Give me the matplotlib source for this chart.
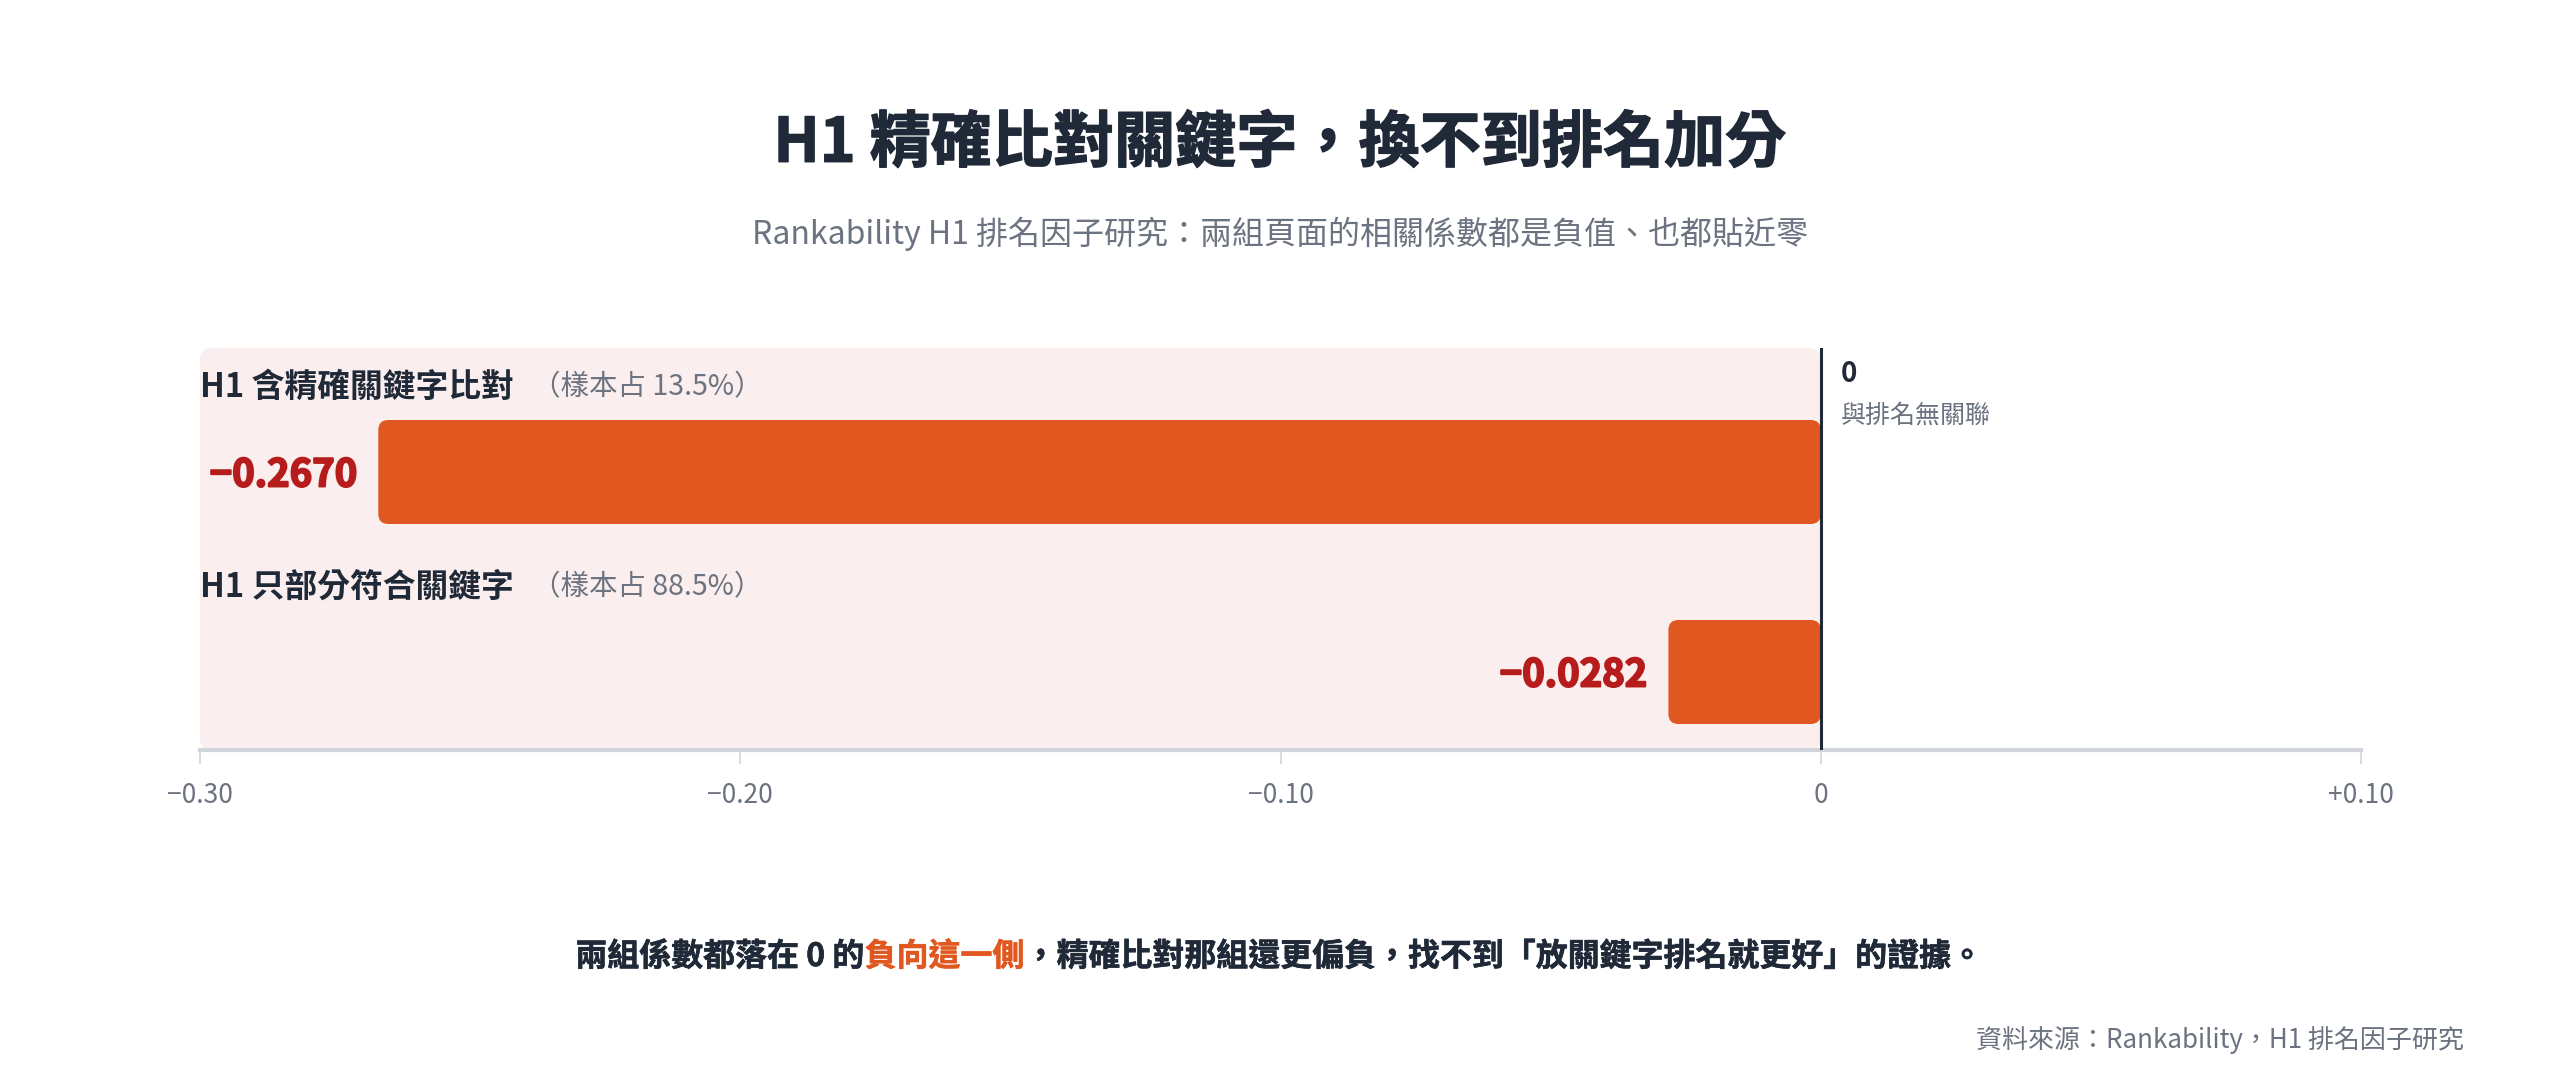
import matplotlib
matplotlib.use('Agg')
import matplotlib.pyplot as plt
import matplotlib.patheffects as pe
from matplotlib.patches import FancyBboxPatch

plt.rcParams['font.family'] = ['Noto Sans CJK TC', 'DejaVu Sans']

# ---- data ----
groups = ['H1 含精確關鍵字比對', 'H1 只部分符合關鍵字']
sample_share = ['13.5%', '88.5%']
corr = [-0.2670, -0.0282]
x_ticks = [-0.30, -0.20, -0.10, 0, 0.10]
x_tick_labels = ['−0.30', '−0.20', '−0.10', '0', '+0.10']

title = 'H1 精確比對關鍵字，換不到排名加分'
subtitle = 'Rankability H1 排名因子研究：兩組頁面的相關係數都是負值、也都貼近零'
note_parts = ['兩組係數都落在 0 的', '負向這一側', '，精確比對那組還更偏負，找不到「放關鍵字排名就更好」的證據。']
source = '資料來源：Rankability，H1 排名因子研究'

# ---- colours ----
DARK = '#1F2937'
GREY = '#6B7280'
BAR = '#E0571F'
VAL = '#B71C1C'
PANEL = '#FBEEEE'
AXIS = '#D1D5DB'


def heavy(c, lw):
    # no Black weight installed, thicken the bold glyphs a little
    return [pe.withStroke(linewidth=lw, foreground=c)]


W, H = 2560, 1080
fig = plt.figure(figsize=(W / 100, H / 100), dpi=100)
fig.patch.set_facecolor('white')

# axes box in pixels
L, R, T, B = 200, 2361, 348, 750
ax = fig.add_axes([L / W, 1 - B / H, (R - L) / W, (B - T) / H])
xlo, xhi = -0.30, 0.10
ylo, yhi = -0.39, 1.62
ax.set_xlim(xlo, xhi)
ax.set_ylim(ylo, yhi)

# data units per pixel -> aspect for rounded boxes
px_x = (xhi - xlo) / (R - L)
px_y = (yhi - ylo) / (B - T)
asp = px_y / px_x

# pink panel on the negative side
panel = FancyBboxPatch((xlo, ylo), 0 - xlo, yhi - ylo,
                       boxstyle='round,pad=0,rounding_size=%f' % (12 * px_x),
                       mutation_aspect=asp, fc=PANEL, ec='none', zorder=0)
ax.add_patch(panel)

n = len(groups)
bar_h = 0.52
for i, (g, s, v) in enumerate(zip(groups, sample_share, corr)):
    yc = n - 1 - i
    bar = FancyBboxPatch((v, yc - bar_h / 2), -v, bar_h,
                         boxstyle='round,pad=0,rounding_size=%f' % (10 * px_x),
                         mutation_aspect=asp, fc=BAR, ec='none', zorder=2)
    ax.add_patch(bar)
    ax.annotate('−%.4f' % abs(v), xy=(v, yc), xytext=(-21, -3), textcoords='offset pixels',
                ha='right', va='center', fontsize=27.5, fontweight='bold', color=VAL, zorder=3,
                path_effects=heavy(VAL, 1.4))
    lab = ax.text(xlo, yc + 0.425, g, ha='left', va='center', fontsize=23.6,
                  fontweight='bold', color=DARK, zorder=3)
    ax.annotate('（樣本占 %s）' % s, xy=(1, 0.5), xycoords=lab, xytext=(13, 0),
                textcoords='offset points', ha='left', va='center', fontsize=20.5, color=GREY)

# zero reference line
ax.axvline(0, color=DARK, lw=2.2, zorder=4)
ax.annotate('0', xy=(0, 1), xycoords=('data', 'axes fraction'), xytext=(20, -12),
            textcoords='offset pixels', ha='left', va='top', fontsize=20,
            fontweight='bold', color=DARK)
ax.annotate('與排名無關聯', xy=(0, 1), xycoords=('data', 'axes fraction'), xytext=(20, -55),
            textcoords='offset pixels', ha='left', va='top', fontsize=18, color=GREY)

# axis styling
for side in ['top', 'right', 'left']:
    ax.spines[side].set_visible(False)
ax.spines['bottom'].set_color(AXIS)
ax.spines['bottom'].set_linewidth(3)
ax.set_yticks([])
ax.set_xticks(x_ticks)
ax.set_xticklabels(x_tick_labels)
ax.tick_params(axis='x', length=10, width=1.2, color=AXIS, pad=13, labelsize=19, labelcolor=GREY)
ax.set_facecolor('none')

# titles
cx = 0.5
fig.text(cx, 1 - 144 / H, title, ha='center', va='center', fontsize=44, fontweight='bold',
         color=DARK, path_effects=heavy(DARK, 1.0))
fig.text(cx, 1 - 234 / H, subtitle, ha='center', va='center', fontsize=23, color=GREY)

# bottom note with highlighted words, centred as one line
colors = [DARK, BAR, DARK]
fig.canvas.draw()
r = fig.canvas.get_renderer()
ny = 1 - 957 / H
texts = [fig.text(0, ny, p, ha='left', va='center', fontsize=23, fontweight='bold', color=c,
                  path_effects=heavy(c, 0.4))
         for p, c in zip(note_parts, colors)]
widths = [t.get_window_extent(r).width for t in texts]
x0 = cx * W - sum(widths) / 2
for t, w in zip(texts, widths):
    t.set_position((x0 / W, ny))
    x0 += w

fig.text(2464 / W, 1 - 1040 / H, source, ha='right', va='center', fontsize=18.7, color=GREY)

fig.savefig('out.png', dpi=100, facecolor='white')
